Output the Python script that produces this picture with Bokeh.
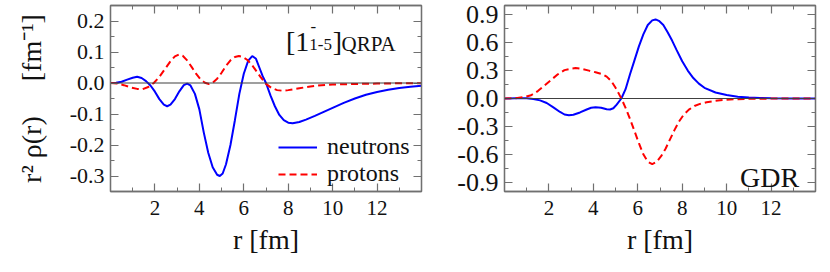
from bokeh.plotting import figure
from bokeh.models import (Range1d, LinearAxis, FixedTicker, NumeralTickFormatter,
                          CustomJSTickFormatter, Span, Label, Legend, LegendItem)
from bokeh.layouts import row
from bokeh.embed import file_html
from bokeh.resources import INLINE

# ---------------- data ----------------
# left panel: [1^-_{1-5}]_QRPA transition densities
r_left_n = [0.0, 0.25, 0.5, 0.75, 1.0, 1.2, 1.4, 1.6, 1.8, 2.0, 2.2, 2.4, 2.55, 2.7, 2.9, 3.1,
            3.3, 3.45, 3.6, 3.8, 4.0, 4.2, 4.4, 4.6, 4.8, 4.92, 5.05, 5.2, 5.4, 5.6, 5.8, 6.0,
            6.2, 6.38, 6.55, 6.7, 6.85, 7.0, 7.2, 7.4, 7.6, 7.8, 8.0, 8.2, 8.5, 8.8, 9.2, 9.6,
            10.0, 10.5, 11.0, 11.5, 12.0, 12.5, 13.0, 13.5, 14.0]
neutrons_left = [0.0, 0.001, 0.004, 0.011, 0.017, 0.020, 0.016, 0.006, -0.008, -0.028, -0.052,
                 -0.070, -0.075, -0.070, -0.052, -0.027, -0.007, -0.002, -0.008, -0.035, -0.085,
                 -0.160, -0.225, -0.272, -0.296, -0.300, -0.292, -0.262, -0.200, -0.120, -0.035,
                 0.030, 0.072, 0.087, 0.078, 0.050, 0.022, 0.000, -0.040, -0.075, -0.103, -0.120,
                 -0.128, -0.130, -0.126, -0.118, -0.106, -0.093, -0.080, -0.064, -0.050, -0.038,
                 -0.029, -0.022, -0.016, -0.012, -0.009]

r_left_p = [0.0, 0.3, 0.6, 0.9, 1.2, 1.45, 1.7, 1.95, 2.2, 2.45, 2.7, 2.9, 3.08, 3.25, 3.45,
            3.65, 3.85, 4.05, 4.25, 4.43, 4.6, 4.8, 5.0, 5.2, 5.4, 5.6, 5.78, 5.95, 6.15, 6.35,
            6.55, 6.75, 7.0, 7.25, 7.5, 7.75, 8.0, 8.5, 9.0, 9.5, 10.0, 11.0, 12.0, 13.0, 14.0]
protons_left = [0.0, -0.002, -0.007, -0.014, -0.019, -0.020, -0.013, 0.000, 0.020, 0.045,
                0.070, 0.086, 0.092, 0.088, 0.073, 0.052, 0.030, 0.012, 0.001, -0.003, 0.001,
                0.014, 0.033, 0.055, 0.073, 0.084, 0.087, 0.084, 0.075, 0.060, 0.040, 0.020,
                -0.003, -0.016, -0.023, -0.025, -0.023, -0.017, -0.011, -0.007, -0.005, -0.003,
                -0.002, -0.001, -0.001]

# right panel: GDR transition densities
r_right_n = [0.0, 0.5, 1.0, 1.3, 1.6, 1.9, 2.2, 2.5, 2.7, 2.9, 3.1, 3.4, 3.7, 3.9, 4.1, 4.35,
             4.6, 4.75, 4.9, 5.05, 5.26, 5.45, 5.65, 5.85, 6.05, 6.25, 6.45, 6.65, 6.8, 6.95,
             7.15, 7.35, 7.55, 7.75, 8.0, 8.25, 8.5, 8.75, 9.0, 9.5, 10.0, 10.5, 11.0, 11.5,
             12.0, 13.0, 14.0]
neutrons_right = [0.0, 0.002, 0.002, -0.005, -0.02, -0.048, -0.095, -0.145, -0.172, -0.180,
                  -0.175, -0.150, -0.118, -0.100, -0.094, -0.100, -0.115, -0.118, -0.105,
                  -0.065, 0.0, 0.10, 0.26, 0.41, 0.56, 0.69, 0.79, 0.84, 0.85, 0.835, 0.79,
                  0.71, 0.62, 0.52, 0.40, 0.30, 0.22, 0.16, 0.115, 0.065, 0.037, 0.020, 0.011,
                  0.006, 0.004, 0.001, 0.0]

r_right_p = [0.0, 0.5, 0.9, 1.2, 1.5, 1.8, 2.1, 2.4, 2.7, 3.0, 3.2, 3.5, 3.8, 4.1, 4.4, 4.6,
             4.8, 5.0, 5.15, 5.26, 5.45, 5.65, 5.85, 6.05, 6.25, 6.45, 6.65, 6.85, 7.05, 7.25,
             7.45, 7.65, 7.85, 8.05, 8.3, 8.55, 8.8, 9.1, 9.5, 10.0, 10.5, 11.0, 12.0, 13.0, 14.0]
protons_right = [0.0, 0.003, 0.015, 0.035, 0.08, 0.14, 0.20, 0.26, 0.305, 0.322, 0.327, 0.318,
                 0.300, 0.282, 0.262, 0.235, 0.19, 0.115, 0.05, 0.0, -0.10, -0.22, -0.35, -0.48,
                 -0.60, -0.68, -0.705, -0.68, -0.62, -0.54, -0.44, -0.34, -0.25, -0.18, -0.12,
                 -0.08, -0.058, -0.04, -0.025, -0.013, -0.007, -0.004, -0.001, 0.0, 0.0]

x_major = [2, 4, 6, 8, 10, 12]
x_minor = [1, 3, 5, 7, 9, 11, 13]
y_major_left = [-0.3, -0.2, -0.1, 0.0, 0.1, 0.2]
y_minor_left = [-0.35, -0.25, -0.15, -0.05, 0.05, 0.15, 0.25]
y_major_right = [-0.9, -0.6, -0.3, 0.0, 0.3, 0.6, 0.9]
y_minor_right = [-0.75, -0.45, -0.15, 0.15, 0.45, 0.75]

FONT = "Liberation Serif"
FRAME = "#707070"
TXT = "#111111"
BLUE = "#0000ff"
RED = "#ff0000"


def style_axis(ax, show_labels, label_size="21px"):
    ax.axis_line_color = FRAME
    ax.axis_line_width = 1.3
    ax.major_tick_line_color = FRAME
    ax.minor_tick_line_color = FRAME
    ax.major_tick_line_width = 1.2
    ax.minor_tick_line_width = 1.0
    ax.major_tick_in = 8
    ax.major_tick_out = 0
    ax.minor_tick_in = 4
    ax.minor_tick_out = 0
    ax.major_label_text_font = FONT
    ax.major_label_text_color = TXT
    ax.major_label_text_font_size = label_size
    if not show_labels:
        ax.formatter = CustomJSTickFormatter(code="return ''")
        ax.major_label_standoff = 0


def make_panel(width, border_left, border_right, y_lo, y_hi, y_major, y_minor, ytick_size):
    p = figure(width=width, height=262, x_range=Range1d(0, 14), y_range=Range1d(y_lo, y_hi),
               output_backend="svg", toolbar_location=None,
               min_border_left=border_left, min_border_right=border_right,
               min_border_top=5, min_border_bottom=71)
    p.grid.visible = False
    p.outline_line_color = FRAME
    p.outline_line_width = 1.3
    p.background_fill_color = "white"
    p.border_fill_color = "white"

    bx = p.xaxis[0]
    bx.ticker = FixedTicker(ticks=x_major, minor_ticks=x_minor)
    bx.formatter = NumeralTickFormatter(format="0")
    style_axis(bx, True, "21px")
    bx.major_label_standoff = 9
    bx.axis_label = "r [fm]"
    bx.axis_label_text_font = FONT
    bx.axis_label_text_font_size = "28px"
    bx.axis_label_text_font_style = "normal"
    bx.axis_label_standoff = 6
    bx.axis_label_text_color = TXT

    ly = p.yaxis[0]
    ly.ticker = FixedTicker(ticks=y_major, minor_ticks=y_minor)
    ly.formatter = NumeralTickFormatter(format="0.0")
    style_axis(ly, True, ytick_size)
    ly.major_label_standoff = 6

    top = LinearAxis(ticker=FixedTicker(ticks=x_major, minor_ticks=x_minor))
    style_axis(top, False, "1px")
    p.add_layout(top, "above")
    right = LinearAxis(ticker=FixedTicker(ticks=y_major, minor_ticks=y_minor))
    style_axis(right, False, "1px")
    p.add_layout(right, "right")

    p.add_layout(Span(location=0, dimension="width", line_color="#404040", line_width=1.1))
    return p


# ---------------- left panel ----------------
p1 = make_panel(423, 110, 2, -0.35, 0.25, y_major_left, y_minor_left, "22px")
ly = p1.yaxis[0]
ly.axis_label = "r\u00b2 \u03c1(r)\u00a0\u00a0\u00a0\u00a0\u00a0[fm\u207b\u00b9]"
ly.axis_label_text_font = FONT
ly.axis_label_text_font_size = "28px"
ly.axis_label_text_font_style = "normal"
ly.axis_label_standoff = 20
ly.axis_label_text_color = TXT

rn1 = p1.line(r_left_n, neutrons_left, line_color=BLUE, line_width=2)
rp1 = p1.line(r_left_p, protons_left, line_color=RED, line_width=2, line_dash="7 4")

legend = Legend(items=[LegendItem(label="neutrons", renderers=[rn1]),
                       LegendItem(label="protons", renderers=[rp1])],
                location=(168, 4), padding=0, margin=0, spacing=0,
                border_line_color=None, background_fill_alpha=0,
                glyph_width=39, glyph_height=20, label_height=27, label_standoff=10,
                label_text_font=FONT, label_text_font_size="24px",
                label_text_color=TXT)
p1.add_layout(legend)

# annotation [1^-_{1-5}]_QRPA
ann = dict(text_font=FONT, text_color=TXT, text_baseline="alphabetic", text_align="left")
p1.add_layout(Label(x=7.9, y=0.133, text="[1", text_font_size="28px", **ann))
p1.add_layout(Label(x=9.0, y=0.183, text="-", text_font_size="17px", **ann))
p1.add_layout(Label(x=8.95, y=0.124, text="1-5", text_font_size="17px", **ann))
p1.add_layout(Label(x=10.0, y=0.133, text="]", text_font_size="28px", **ann))
p1.add_layout(Label(x=10.4, y=0.127, text="QRPA", text_font_size="21px", **ann))

# ---------------- right panel ----------------
p2 = make_panel(395, 81, 3, -1.0, 1.0, y_major_right, y_minor_right, "26px")
p2.line(r_right_n, neutrons_right, line_color=BLUE, line_width=2)
p2.line(r_right_p, protons_right, line_color=RED, line_width=2, line_dash="7 4")
p2.add_layout(Label(x=10.6, y=-0.853, text="GDR", text_font_size="28px", **ann))

layout = row(p1, p2)
open("out.html", "w").write(file_html(layout, INLINE))
